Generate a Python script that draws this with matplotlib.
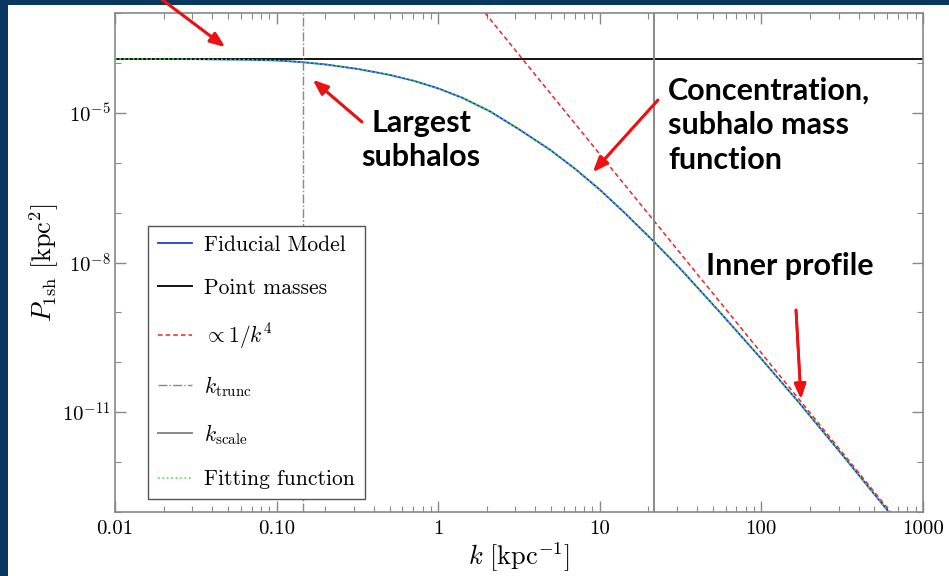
import numpy as np
import matplotlib.pyplot as plt
from matplotlib.patches import Rectangle

plt.rcParams['mathtext.fontset'] = 'cm'
plt.rcParams['font.family'] = 'serif'
plt.rcParams['font.serif'] = ['cmr10']
plt.rcParams['axes.unicode_minus'] = False

# values
k_fid = [0.01, 0.0316, 0.0631, 0.1, 0.1436, 0.2, 0.316, 0.501, 0.708, 1.0,
         1.41, 2.09, 3.16, 4.92, 7.08, 10.0, 14.1, 21.3, 31.6, 55.5, 100.0,
         166.0, 316.0, 607.0, 1000.0]
p_fid = [1.202e-4, 1.189e-4, 1.161e-4, 1.122e-4, 1.035e-4, 9.33e-5, 7.59e-5,
         5.75e-5, 4.37e-5, 3.09e-5, 2.0e-5, 1.07e-5, 4.68e-6, 1.82e-6, 7.41e-7,
         2.88e-7, 1.02e-7, 2.75e-8, 7.41e-9, 1.0e-9, 1.17e-10, 1.74e-11,
         1.41e-12, 1.05e-13, 1.41e-14]
p_point = 1.2e-4
k_pow = [1.95, 630.0]
p_pow = [1.0e-3, 1.0e-13]
k_trunc = 0.145
k_scale = 21.6

xticks = [0.01, 0.1, 1, 10, 100, 1000]
xlabels = ['0.01', '0.10', '1', '10', '100', '1000']
yticks = [1e-5, 1e-8, 1e-11]
ylabels = [r'$10^{-5}$', r'$10^{-8}$', r'$10^{-11}$']

W, H = 949, 576
fig = plt.figure(figsize=(W/100, H/100), dpi=100)
fig.patch.set_facecolor('#0a3760')
fig.add_artist(Rectangle((8/W, 0), 1 - 8/W, 1 - 5/H, transform=fig.transFigure,
                         facecolor='white', edgecolor='none', zorder=0))

ax = fig.add_axes([115/W, 1 - 512/H, 808/W, 499/H])
ax.set_xscale('log')
ax.set_yscale('log')
ax.set_xlim(0.01, 1000)
ax.set_ylim(1e-13, 1e-3)

gray = '#888888'
ax.plot(k_fid, p_fid, color='#1f3de0', lw=1.3, label='Fiducial Model')
ax.axhline(p_point, color='#111111', lw=1.4, label='Point masses')
ax.plot(k_pow, p_pow, color='#e8262a', lw=1.1, ls='--', dashes=(3, 2), label=r'$\propto 1/k^4$')
ax.axvline(k_trunc, color=gray, lw=1.0, ls='-.', label=r'$k_{\rm trunc}$')
ax.axvline(k_scale, color=gray, lw=1.4, label=r'$k_{\rm scale}$')
ax.plot(k_fid, p_fid, color='#3ce83c', lw=1.2, ls=':', label='Fitting function')

ax.set_xticks(xticks)
ax.set_xticklabels(xlabels)
ax.set_yticks(yticks)
ax.set_yticklabels(ylabels)
ax.set_yticks([10.0**e for e in range(-13, -2) if e not in (-5, -8, -11)], minor=True)
ax.yaxis.set_minor_formatter(plt.NullFormatter())
ax.tick_params(which='both', direction='in', top=True, right=True, color=gray,
               labelsize=15)
ax.tick_params(axis='x', pad=6)
ax.tick_params(axis='y', pad=3)
ax.tick_params(which='major', length=8, width=1)
ax.tick_params(which='minor', length=4, width=0.8)
for s in ax.spines.values():
    s.set_color(gray)
    s.set_linewidth(1.2)

ax.set_xlabel(r'$k\ [\mathrm{kpc}^{-1}]$', fontsize=19, labelpad=2)
ax.set_ylabel(r'$P_{1\mathrm{sh}}\ [\mathrm{kpc}^2]$', fontsize=19, labelpad=1)

leg = ax.legend(loc='lower left', bbox_to_anchor=(0.041, 0.026), borderaxespad=0,
                fontsize=15.5, labelspacing=1.08, handlelength=1.6, handletextpad=0.55,
                borderpad=0.45, fancybox=False, framealpha=1)
leg.get_frame().set_edgecolor('#555555')
leg.get_frame().set_linewidth(1.0)

def fp(x, y):
    return (x/W, 1 - y/H)

bold = dict(family='Lato', weight='bold', fontsize=22, color='black')
fig.text(*fp(421, 140), 'Largest\nsubhalos', ha='center', va='center',
         linespacing=1.3, **bold)
fig.text(*fp(668, 125), 'Concentration,\nsubhalo mass\nfunction', ha='left',
         va='center', linespacing=1.3, **bold)
fig.text(*fp(790, 266), 'Inner profile', ha='center', va='center', **bold)

arrows = [((160, -2), (225, 47)),
          ((362, 122), (313, 80)),
          ((658, 100), (593, 172)),
          ((796, 310), (801, 399))]
for tail, tip in arrows:
    fig.add_artist(plt.annotate('', xy=fp(*tip), xytext=fp(*tail),
                                xycoords='figure fraction', textcoords='figure fraction',
                                arrowprops=dict(arrowstyle='-|>,head_length=0.9,head_width=0.35',
                                                color='#ee1111', lw=2, shrinkA=0, shrinkB=0),
                                annotation_clip=False))

fig.savefig('out.png', dpi=100, facecolor=fig.get_facecolor())
